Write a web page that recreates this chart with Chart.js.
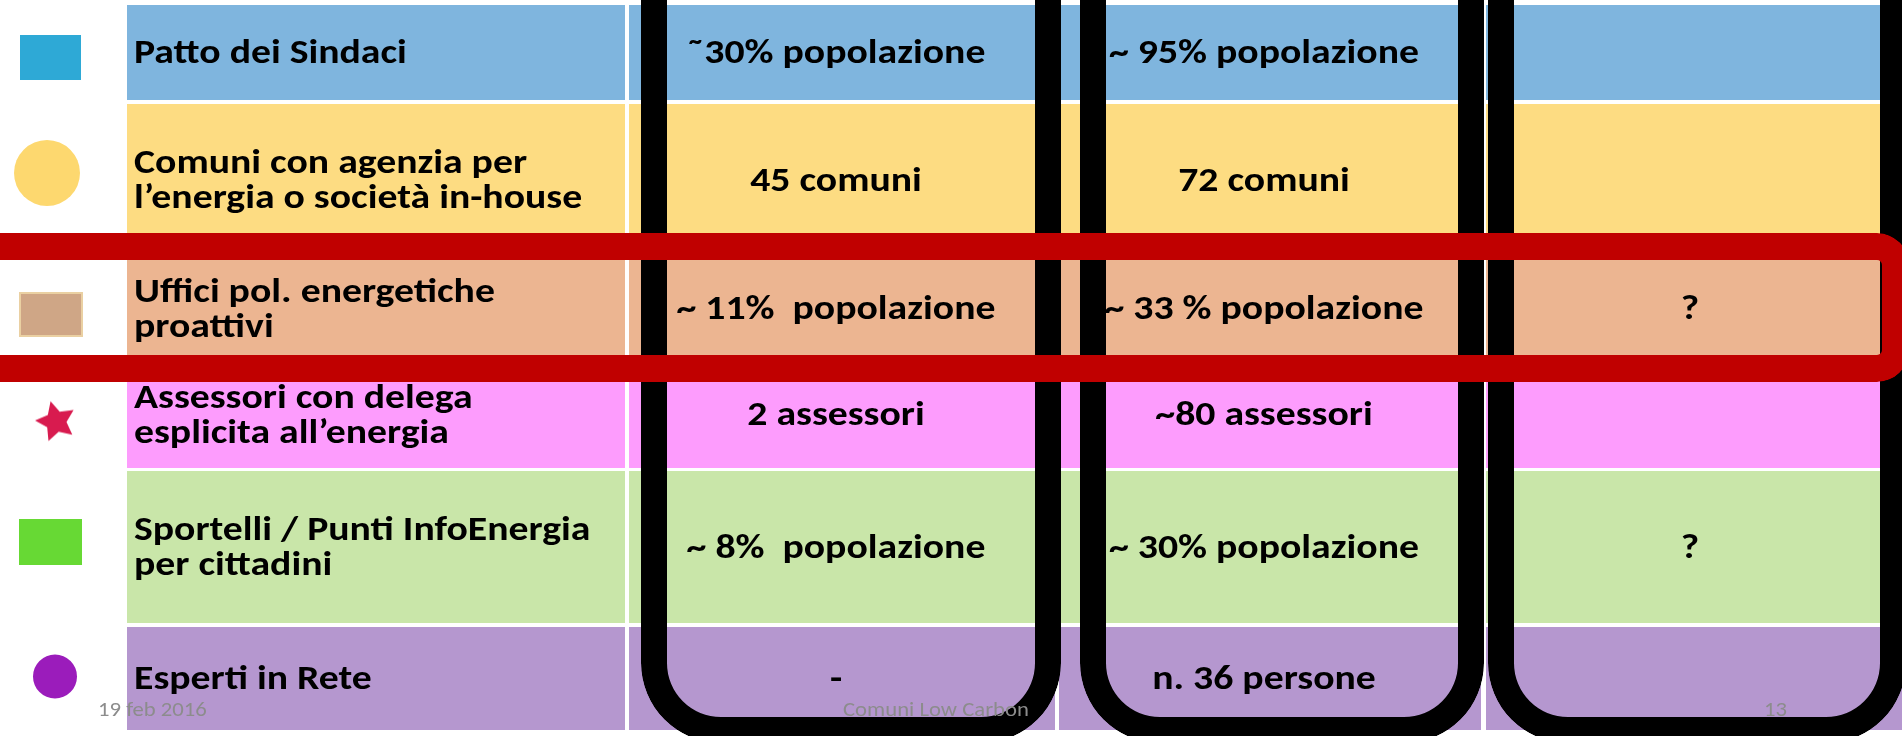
<!DOCTYPE html>
<html lang="it">
<head>
<meta charset="utf-8">
<title>Comuni Low Carbon</title>
<script src="https://cdn.jsdelivr.net/npm/chart.js@4.4.1/dist/chart.umd.min.js"></script>
<style>
  html, body { margin: 0; padding: 0; background: #fff; }
  canvas { display: block; }
</style>
</head>
<body>
<canvas id="tabella" width="1902" height="736"></canvas>
<script>
// dati della tabella
const voci = [
  'Patto dei Sindaci',
  'Comuni con agenzia per\nl’energia o società in-house',
  'Uffici pol. energetiche\nproattivi',
  'Assessori con delega\nesplicita all’energia',
  'Sportelli / Punti InfoEnergia\nper cittadini',
  'Esperti in Rete'
];
const colonna1 = ['˜30% popolazione', '45 comuni', '~ 11%  popolazione', '2 assessori', '~ 8%  popolazione', '-'];
const colonna2 = ['~ 95% popolazione', '72 comuni', '~ 33 % popolazione', '~80 assessori', '~ 30% popolazione', 'n. 36 persone'];
const colonna3 = ['', '', '?', '', '?', ''];
const piede = ['19 feb 2016', 'Comuni Low Carbon', '13'];

// impaginazione della slide (pixel)
const larghezza = 1902, altezza = 736;
const righe = [[5, 100], [104, 256], [260, 357], [361, 468], [471, 623], [627, 730]];
const colonne = [[127, 625], [629, 1055], [1059, 1481], [1486, 1906]];
const cornici = [[641, 1061], [1080, 1484], [1488, 1906]];
const corniceY = [-300, 743];
const rossaX = [-40, 1909], rossaY = [233, 382];
const piedeX = [98, 843, 1764], piedeY = 716;

// stili
const coloriRighe = ['#7fb5de', '#fddc82', '#ecb591', '#fd9cfd', '#c9e6a9', '#b597cf'];
const marcatori = [
  { forma: 'rett', w: 61, h: 45, colore: '#2ea9d6', x: 50, dy: 5 },
  { forma: 'cerchio', r: 33, colore: '#fdd86f', x: 47, dy: -7 },
  { forma: 'rett', w: 64, h: 45, colore: '#cfa686', bordo: '#ead0a2', x: 51, dy: 6 },
  { forma: 'stella', r: 21, colore: '#d81b4f', x: 56, dy: 7 },
  { forma: 'rett', w: 63, h: 46, colore: '#67d934', x: 50, dy: -5 },
  { forma: 'cerchio', r: 22, colore: '#9b1cbb', x: 55, dy: -2 }
];
const fontTesto = '"Carlito", "Lato", sans-serif';
const corpo = 35, interlinea = 35, altezzaMaiuscole = 0.72 * corpo;
const allungamento = 1.135; // la slide originale e' stirata in orizzontale

const centro = (a) => (a[0] + a[1]) / 2;
const ampiezza = (a) => a[1] - a[0];

function creaRettangolo(m) {
  const c = document.createElement('canvas');
  c.width = m.w; c.height = m.h;
  const g = c.getContext('2d');
  g.fillStyle = m.colore;
  g.fillRect(0, 0, m.w, m.h);
  if (m.bordo) {
    g.strokeStyle = m.bordo;
    g.lineWidth = 2;
    g.strokeRect(1, 1, m.w - 2, m.h - 2);
  }
  return c;
}

function creaStella(m) {
  const lato = m.r * 2 + 4;
  const c = document.createElement('canvas');
  c.width = lato; c.height = lato;
  const g = c.getContext('2d');
  g.translate(lato / 2, lato / 2);
  g.beginPath();
  for (let k = 0; k < 10; k++) {
    const ang = (-105 + k * 36) * Math.PI / 180;
    const rr = k % 2 === 0 ? m.r : m.r * 0.5;
    g.lineTo(Math.cos(ang) * rr, Math.sin(ang) * rr);
  }
  g.closePath();
  g.fillStyle = m.colore;
  g.fill();
  return c;
}

const stiliPunti = marcatori.map(m => m.forma === 'rett' ? creaRettangolo(m) : m.forma === 'stella' ? creaStella(m) : 'circle');

// un asse lineare invisibile per ogni gruppo di barre, 1 unita = 1 pixel
function asseNascosto(axis, max, reverse) {
  return {
    type: 'linear', axis: axis, display: false, offset: false,
    min: 0, max: max, reverse: !!reverse,
    afterBuildTicks: (s) => { s.ticks = [{ value: s.min }]; }
  };
}

const scales = { y: asseNascosto('y', altezza, true), yr: asseNascosto('y', altezza, true), xm: asseNascosto('x', larghezza) };
colonne.forEach((c, i) => { scales['xc' + i] = asseNascosto('x', larghezza); });
cornici.forEach((c, i) => { scales['xf' + i] = asseNascosto('x', larghezza); });

const datasetCelle = colonne.map((col, c) => ({
  type: 'bar',
  label: 'colonna ' + c,
  xAxisID: 'xc' + c,
  yAxisID: 'y',
  order: 3,
  data: righe.map(r => ({ x: centro(col), y: [r[0], r[1]] })),
  backgroundColor: coloriRighe,
  barThickness: ampiezza(col),
  maxBarThickness: ampiezza(col)
}));

const datasetCornici = cornici.map((cr, i) => ({
  type: 'bar',
  label: 'cornice ' + i,
  xAxisID: 'xf' + i,
  yAxisID: 'y',
  order: 1,
  data: [{ x: centro(cr), y: corniceY }],
  backgroundColor: 'rgba(0,0,0,0)',
  borderColor: '#000',
  borderWidth: 26,
  borderRadius: 80,
  barThickness: ampiezza(cr),
  maxBarThickness: ampiezza(cr)
}));

const datasetRossa = {
  type: 'bar',
  label: 'evidenza',
  indexAxis: 'y',
  xAxisID: 'xm',
  yAxisID: 'yr',
  order: 0,
  data: [{ x: rossaX, y: centro(rossaY) }],
  backgroundColor: 'rgba(0,0,0,0)',
  borderColor: '#c00000',
  borderWidth: 27,
  borderRadius: 32,
  barThickness: ampiezza(rossaY),
  maxBarThickness: ampiezza(rossaY)
};

const datasetMarcatori = {
  type: 'scatter',
  label: 'legenda',
  xAxisID: 'xm',
  yAxisID: 'y',
  order: 1,
  data: righe.map((r, i) => ({ x: marcatori[i].x, y: centro(r) + marcatori[i].dy })),
  pointStyle: stiliPunti,
  pointRadius: marcatori.map(m => m.r || 20),
  pointBackgroundColor: marcatori.map(m => m.colore),
  pointBorderWidth: 0
};

function scriviStirato(ctx, testo, x, y) {
  ctx.save();
  ctx.translate(x, y);
  ctx.scale(allungamento, 1);
  ctx.fillText(testo, 0, 0);
  ctx.restore();
}

function scriviRighe(ctx, testo, x, cy, align) {
  const linee = testo.split('\n');
  ctx.textAlign = align;
  const inizio = cy - (linee.length - 1) * interlinea / 2 + altezzaMaiuscole / 2;
  linee.forEach((l, k) => scriviStirato(ctx, l, x, inizio + k * interlinea));
}

// testi delle celle: dopo le celle, sotto le cornici
const testiCelle = {
  id: 'testiCelle',
  afterDatasetDraw(chart, args) {
    if (args.index !== 0) return;
    const ctx = chart.ctx, y = chart.scales.y;
    const serie = [colonna1, colonna2, colonna3];
    ctx.save();
    ctx.fillStyle = '#000';
    ctx.textBaseline = 'alphabetic';
    ctx.font = 'bold ' + corpo + 'px ' + fontTesto;
    righe.forEach((r, i) => {
      const cy = y.getPixelForValue(centro(r)) - 2;
      scriviRighe(ctx, voci[i], chart.scales.xc0.getPixelForValue(colonne[0][0]) + 7, cy, 'left');
      serie.forEach((s, c) => {
        const sx = chart.scales['xc' + (c + 1)];
        scriviRighe(ctx, s[i], sx.getPixelForValue(centro(colonne[c + 1])) - 6, cy, 'center');
      });
    });
    ctx.restore();
  },
  afterDraw(chart) {
    const ctx = chart.ctx;
    ctx.save();
    ctx.fillStyle = '#8c8c8c';
    ctx.font = '20px ' + fontTesto;
    ctx.textAlign = 'left';
    ctx.textBaseline = 'alphabetic';
    piede.forEach((t, i) => scriviStirato(ctx, t, piedeX[i], piedeY));
    ctx.restore();
  }
};

new Chart(document.getElementById('tabella'), {
  type: 'bar',
  data: { datasets: [...datasetCelle, ...datasetCornici, datasetRossa, datasetMarcatori] },
  options: {
    responsive: false,
    animation: false,
    events: [],
    layout: { padding: 0, autoPadding: false },
    datasets: {
      bar: { grouped: false, inflateAmount: 0, borderSkipped: false, borderWidth: 0 }
    },
    plugins: { legend: { display: false }, tooltip: { enabled: false }, title: { display: false } },
    scales: scales
  },
  plugins: [testiCelle]
});
</script>
</body>
</html>
